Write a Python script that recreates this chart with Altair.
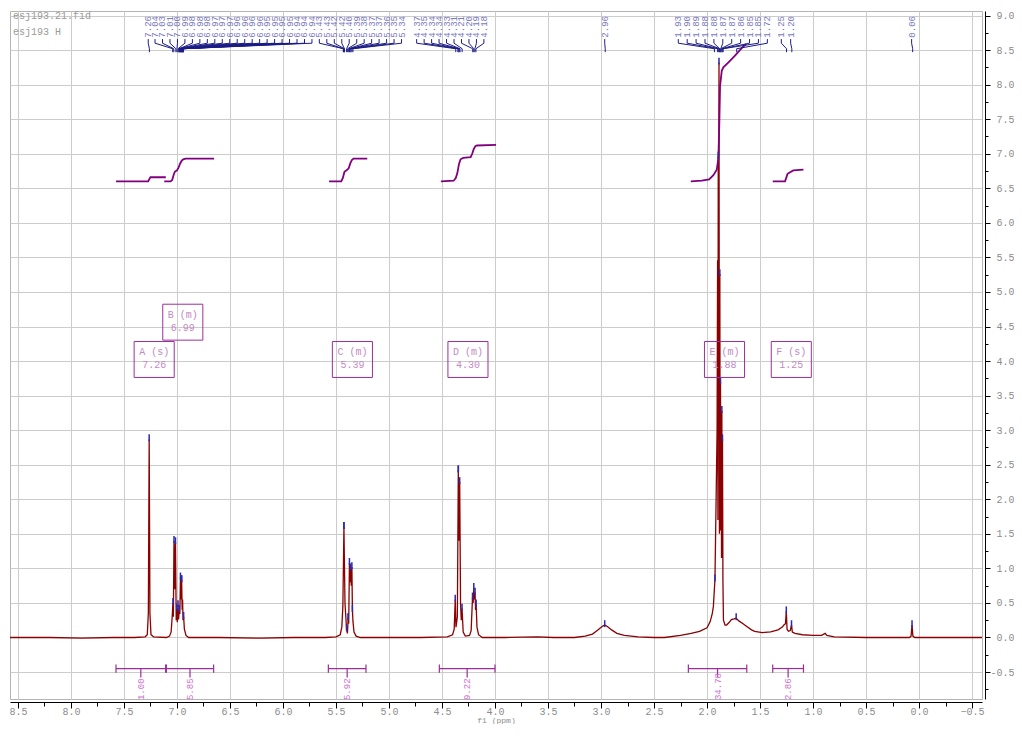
import altair as alt
import pandas as pd
import numpy as np

FONT = "Liberation Mono"

# ---------------- spectrum (ppm, intensity) ----------------
base1_ppm = [8.575, 8.2, 7.9, 7.6, 7.40]
base1_int = [0.0, 0.0, -0.01, 0.0, 0.0]
A_ppm = [7.30, 7.28, 7.27, 7.262, 7.255, 7.245, 7.22]
A_int = [0.01, 0.04, 0.35, 2.87, 0.35, 0.04, 0.01]
B_ppm = [7.10, 7.07, 7.055, 7.045, 7.038, 7.034, 7.028, 7.021, 7.014, 7.007, 7.002, 6.997,
         6.990, 6.985, 6.978, 6.973, 6.967, 6.962, 6.956, 6.951, 6.947, 6.943, 6.937, 6.930,
         6.915, 6.89]
B_int = [0.0, 0.02, 0.08, 0.30, 0.50, 0.30, 1.40, 0.70, 1.38, 0.25, 0.42, 0.22,
         0.47, 0.26, 0.40, 0.34, 0.87, 0.55, 0.83, 0.40, 0.55, 0.25, 0.30, 0.12,
         0.03, 0.0]
base2_ppm = [6.6, 6.2, 5.9, 5.6]
base2_int = [0.0, -0.01, 0.0, 0.0]
C_ppm = [5.50, 5.46, 5.445, 5.435, 5.425, 5.415, 5.40, 5.392, 5.385, 5.38, 5.373, 5.367,
         5.362, 5.356, 5.350, 5.345, 5.340, 5.330, 5.31, 5.27]
C_int = [0.01, 0.04, 0.15, 0.45, 1.60, 0.50, 0.12, 0.06, 0.28, 0.20, 1.08, 0.80,
         1.00, 0.75, 1.02, 0.40, 0.24, 0.08, 0.02, 0.0]
base3_ppm = [5.0, 4.7, 4.45]
base3_int = [0.0, 0.0, 0.01]
D_ppm = [4.40, 4.385, 4.375, 4.368, 4.355, 4.346, 4.340, 4.333, 4.325, 4.318, 4.311, 4.300,
         4.28, 4.24, 4.225, 4.212, 4.206, 4.200, 4.194, 4.188, 4.183, 4.178, 4.170, 4.155, 4.12]
D_int = [0.04, 0.12, 0.55, 0.15, 0.30, 2.42, 1.40, 2.25, 0.50, 0.25, 0.42, 0.08,
         0.02, 0.03, 0.10, 0.58, 0.50, 0.72, 0.55, 0.65, 0.40, 0.48, 0.15, 0.04, 0.0]
base4_ppm = [3.9, 3.6, 3.45, 3.25]
base4_int = [0.0, 0.01, 0.0, 0.0]
hump_ppm = [3.15, 3.08, 3.03, 2.99, 2.965, 2.94, 2.90, 2.85, 2.78, 2.65, 2.5, 2.40]
hump_int = [0.02, 0.05, 0.11, 0.16, 0.18, 0.16, 0.11, 0.06, 0.03, 0.01, 0.0, 0.0]
E_ppm = [2.25, 2.15, 2.07, 2.00, 1.97, 1.95, 1.94, 1.925, 1.915, 1.905, 1.900, 1.897,
         1.894, 1.891, 1.887, 1.883, 1.879, 1.876, 1.873, 1.869, 1.866, 1.863, 1.860, 1.857,
         1.854, 1.850, 1.845, 1.83, 1.815, 1.79, 1.77, 1.745, 1.725, 1.70, 1.66, 1.625,
         1.58, 1.55, 1.48, 1.40]
E_int = [0.03, 0.06, 0.09, 0.14, 0.23, 0.35, 0.45, 0.84, 1.9, 3.0, 5.46, 1.7,
         6.96, 4.0, 8.32, 1.5, 5.26, 1.55, 3.70, 2.0, 3.03, 1.15, 3.28, 1.2,
         2.87, 0.84, 0.25, 0.18, 0.18, 0.22, 0.26, 0.27, 0.28, 0.24, 0.20, 0.16,
         0.11, 0.09, 0.07, 0.08]
F_ppm = [1.33, 1.29, 1.275, 1.26, 1.252, 1.245, 1.232, 1.215, 1.203, 1.195, 1.17, 1.10,
         1.00, 0.92, 0.885, 0.87, 0.80]
F_int = [0.11, 0.15, 0.18, 0.20, 0.38, 0.12, 0.09, 0.10, 0.18, 0.08, 0.06, 0.04,
         0.03, 0.03, 0.06, 0.03, 0.01]
G_ppm = [0.5, 0.30, 0.09, 0.075, 0.066, 0.058, 0.04, -0.2, -0.594]
G_int = [0.0, 0.0, 0.0, 0.02, 0.18, 0.02, 0.0, 0.0, 0.0]

spec_ppm = (base1_ppm + A_ppm + B_ppm + base2_ppm + C_ppm + base3_ppm + D_ppm +
            base4_ppm + hump_ppm + E_ppm + F_ppm + G_ppm)
spec_int = (base1_int + A_int + B_int + base2_int + C_int + base3_int + D_int +
            base4_int + hump_int + E_int + F_int + G_int)

# ---------------- integral curves ----------------
intA_ppm = [7.575, 7.272, 7.262, 7.25, 7.105]
intA_val = [6.60, 6.60, 6.63, 6.66, 6.66]
intB_ppm = [7.12, 7.06, 7.045, 7.03, 7.02, 7.00, 6.985, 6.97, 6.955, 6.94, 6.92, 6.65]
intB_val = [6.60, 6.60, 6.62, 6.70, 6.74, 6.76, 6.80, 6.86, 6.90, 6.92, 6.93, 6.93]
intC_ppm = [5.565, 5.45, 5.435, 5.42, 5.40, 5.38, 5.365, 5.35, 5.335, 5.205]
intC_val = [6.60, 6.60, 6.65, 6.74, 6.76, 6.79, 6.86, 6.91, 6.93, 6.93]
intD_ppm = [4.51, 4.39, 4.37, 4.355, 4.34, 4.325, 4.30, 4.23, 4.215, 4.20, 4.185, 4.17, 3.99]
intD_val = [6.60, 6.61, 6.65, 6.72, 6.85, 6.92, 6.94, 6.95, 7.00, 7.07, 7.11, 7.12, 7.13]
intE_ppm = [2.153, 2.05, 1.98, 1.94, 1.908, 1.893, 1.884, 1.877, 1.861, 1.846, 1.80,
            1.736, 1.673, 1.63]
intE_val = [6.60, 6.61, 6.63, 6.69, 6.77, 6.93, 7.43, 7.98, 8.20, 8.25, 8.32,
            8.42, 8.53, 8.59]
intF_ppm = [1.38, 1.264, 1.255, 1.24, 1.22, 1.186, 1.09]
intF_val = [6.60, 6.60, 6.64, 6.71, 6.73, 6.76, 6.77]

# ---------------- peak picking labels ----------------
labels_A = ["7.26"]
labels_B = ["7.04", "7.03", "7.01", "7.00", "6.99", "6.98", "6.98", "6.98", "6.97", "6.97",
            "6.97", "6.96", "6.96", "6.96", "6.96", "6.95", "6.95", "6.95", "6.95", "6.94",
            "6.94", "6.94"]
labels_C = ["5.43", "5.43", "5.42", "5.42", "5.40", "5.39", "5.38", "5.37", "5.37", "5.36",
            "5.35", "5.34"]
labels_D = ["4.37", "4.35", "4.34", "4.34", "4.33", "4.31", "4.21", "4.20", "4.19", "4.18"]
labels_H = ["2.96"]
labels_E = ["1.93", "1.90", "1.89", "1.88", "1.88", "1.87", "1.87", "1.86", "1.85", "1.85",
            "1.72"]
labels_F = ["1.25", "1.20"]
labels_G = ["0.06"]

# ---------------- multiplets ----------------
mult_names = ["A (s)", "B (m)", "C (m)", "D (m)", "E (m)", "F (s)"]
mult_shifts = ["7.26", "6.99", "5.39", "4.30", "1.88", "1.25"]
mult_row = [0, 1, 0, 0, 0, 0]

# ---------------- integrals ----------------
int_from = [7.575, 7.10, 5.572, 4.525, 2.176, 1.38]
int_to = [7.107, 6.654, 5.217, 4.00, 1.625, 1.09]
int_vals = ["1.00", "5.85", "5.92", "9.22", "34.78", "2.86"]

# ---------------- axes ticks ----------------
x_major = [round(v, 2) for v in np.arange(-0.5, 8.51, 0.5)]
x_minor = [round(v, 2) for v in np.arange(-0.25, 8.51, 0.5)]
y_major = [round(v, 2) for v in np.arange(-0.5, 9.01, 0.5)]
y_minor = [round(v, 2) for v in np.arange(-0.75, 9.01, 0.5)]

# ================= build tables =================
spec_df = pd.DataFrame({"ppm": spec_ppm, "int": spec_int})

curves = [intA_ppm, intB_ppm, intC_ppm, intD_ppm, intE_ppm, intF_ppm]
cvals = [intA_val, intB_val, intC_val, intD_val, intE_val, intF_val]
int_curve_df = pd.concat([pd.DataFrame({"ppm": p, "int": v, "seg": k})
                          for k, (p, v) in enumerate(zip(curves, cvals))])

# label slot layout: (labels, first slot ppm, slot step ppm)
groups = [(labels_A, 7.271, 0.0), (labels_B, 7.207, 0.0705), (labels_C, 5.657, 0.0705),
          (labels_D, 4.739, 0.0705), (labels_H, 2.965, 0.0), (labels_E, 2.271, 0.084),
          (labels_F, 1.299, 0.088), (labels_G, 0.07, 0.0)]
Y_TXT, Y1, Y2, Y3, Y4 = 8.68, 8.66, 8.60, 8.52, 8.47
lbl_rows, seg_rows = [], []
for labs, start, step in groups:
    for i, lab in enumerate(labs):
        s = start - i * step
        p = float(lab)
        lbl_rows.append({"ppm": s, "y": Y_TXT, "text": lab})
        seg_rows += [{"x": s, "x2": s, "y": Y1, "y2": Y2},
                     {"x": s, "x2": p, "y": Y2, "y2": Y3},
                     {"x": p, "x2": p, "y": Y3, "y2": Y4}]
lbl_df = pd.DataFrame(lbl_rows)
seg_df = pd.DataFrame(seg_rows)

sp = np.array(spec_ppm)
si = np.array(spec_int)
top_rows = []
for p in sorted(set(float(l) for g in groups for l in g[0])):
    m = np.abs(sp - p) <= 0.0065
    if m.any():
        k = np.argmax(si[m])
        h = si[m][k]
        top_rows.append({"ppm": sp[m][k], "y": h - 0.03, "y2": h + 0.07})
top_df = pd.DataFrame(top_rows)

box_rows = []
for name, sh, row in zip(mult_names, mult_shifts, mult_row):
    c = float(sh) - 0.045
    b = 3.763 + 0.54 * row
    box_rows.append({"x": c + 0.189, "x2": c - 0.189, "y": b, "y2": b + 0.52, "c": c,
                     "ty1": b + 0.37, "ty2": b + 0.18, "name": name, "shift": sh})
box_df = pd.DataFrame(box_rows)

BY = -0.449
br_rows, bl_rows = [], []
for a, b, v in zip(int_from, int_to, int_vals):
    mid = (a + b) / 2
    br_rows += [{"x": a, "x2": b, "y": BY, "y2": BY},
                {"x": a, "x2": a, "y": BY + 0.06, "y2": BY - 0.06},
                {"x": b, "x2": b, "y": BY + 0.06, "y2": BY - 0.06},
                {"x": mid, "x2": mid, "y": BY, "y2": BY - 0.13}]
    bl_rows.append({"ppm": mid, "y": -0.905, "text": v})
br_df = pd.DataFrame(br_rows)
bl_df = pd.DataFrame(bl_rows)

# ================= chart =================
xs = alt.Scale(domain=[-0.594, 8.575], reverse=True, nice=False, zero=False)
ys = alt.Scale(domain=[-0.89, 9.066], nice=False, zero=False)

LBL = "#8c8c8c"
HYPHEN_LABEL = "datum.value < 0 ? '-' + format(-datum.value, '.1f') : format(datum.value, '.1f')"
x_main = alt.Axis(orient="bottom", values=x_major, format=".1f", grid=True, gridColor="#cccccc",
                  domainColor="#000000", tickColor="#000000", tickSize=6, offset=3,
                  labelFont=FONT, labelFontSize=10, labelColor=LBL, labelPadding=-2,
                  labelFlush=False, title="f1 (ppm)", titleFont=FONT, titleFontSize=8,
                  titleFontWeight="normal", titleColor=LBL, titleBaseline="alphabetic",
                  titleY=20.5)
x_min = alt.Axis(orient="bottom", values=x_minor, labels=False, grid=False, domain=False,
                 tickColor="#000000", tickSize=4, offset=3, title="")
y_main = alt.Axis(orient="right", values=y_major, labelExpr=HYPHEN_LABEL, grid=True,
                  gridColor="#cccccc", domainColor="#000000", tickColor="#000000", tickSize=5,
                  offset=3, labelFont=FONT, labelFontSize=10, labelColor=LBL, labelPadding=24,
                  labelAlign="right", labelFlush=False, title="")
y_min = alt.Axis(orient="right", values=y_minor, labels=False, grid=False, domain=False,
                 tickColor="#000000", tickSize=3, offset=3, title="")


def X(f="ppm"):
    return alt.X(f"{f}:Q", scale=xs, axis=None)


def Y(f):
    return alt.Y(f"{f}:Q", scale=ys, axis=None)


spec = alt.Chart(spec_df).mark_line(color="#8b0000", strokeWidth=1.3).encode(
    x=alt.X("ppm:Q", scale=xs, axis=x_main), y=alt.Y("int:Q", scale=ys, axis=y_main))

minor = alt.Chart(pd.DataFrame({"ppm": [4.0], "int": [4.0]})).mark_point(opacity=0).encode(
    x=alt.X("ppm:Q", scale=xs, axis=x_min), y=alt.Y("int:Q", scale=ys, axis=y_min))

tops = alt.Chart(top_df).mark_rule(color="#2a2ab0", strokeWidth=1.5).encode(
    x=X(), y=Y("y"), y2="y2")

integ = alt.Chart(int_curve_df).mark_line(color="#800080", strokeWidth=1.8).encode(
    x=X(), y=Y("int"), detail="seg:N")

segs = alt.Chart(seg_df).mark_rule(color="#1c1c86", strokeWidth=1).encode(
    x=X("x"), x2="x2", y=Y("y"), y2="y2")

lbls = alt.Chart(lbl_df).mark_text(angle=270, align="left", baseline="middle", font=FONT,
                                   fontSize=9, color="#7878c0").encode(
    x=X(), y=Y("y"), text="text:N")

boxes = alt.Chart(box_df).mark_rect(fillOpacity=0, stroke="#9b309b", strokeWidth=1).encode(
    x=X("x"), x2="x2", y=Y("y"), y2="y2")
bname = alt.Chart(box_df).mark_text(font=FONT, fontSize=10, color="#c48ac4",
                                    baseline="middle").encode(x=X("c"), y=Y("ty1"), text="name:N")
bshift = alt.Chart(box_df).mark_text(font=FONT, fontSize=10, color="#c48ac4",
                                     baseline="middle").encode(x=X("c"), y=Y("ty2"), text="shift:N")

brk = alt.Chart(br_df).mark_rule(color="#9b2d9b", strokeWidth=1.2).encode(
    x=X("x"), x2="x2", y=Y("y"), y2="y2")
blab = alt.Chart(bl_df).mark_text(angle=270, align="left", baseline="middle", font=FONT,
                                  fontSize=9, color="#d070d0").encode(
    x=X(), y=Y("y"), text="text:N")

header = alt.Chart(pd.DataFrame({"t": ["esj193.21.fid", "esj193    H"], "yy": [5, 21]})).mark_text(
    align="left", baseline="middle", font=FONT, fontSize=10, color="#9a9a9a").encode(
    x=alt.value(3), y=alt.Y("yy:Q", scale=None, axis=None), text="t:N")

chart = alt.layer(spec, minor, integ, segs, lbls, tops, boxes, bname, bshift, brk, blab, header
                  ).resolve_axis(x="independent", y="independent").properties(
    width=972, height=688,
    padding={"left": 2, "top": 3, "right": 32, "bottom": 25},
    autosize=alt.AutoSizeParams(type="none"),
).configure_view(stroke="#b4b4b4", strokeWidth=1)

chart.save("out.html", embed_options={"renderer": "svg", "actions": False})
